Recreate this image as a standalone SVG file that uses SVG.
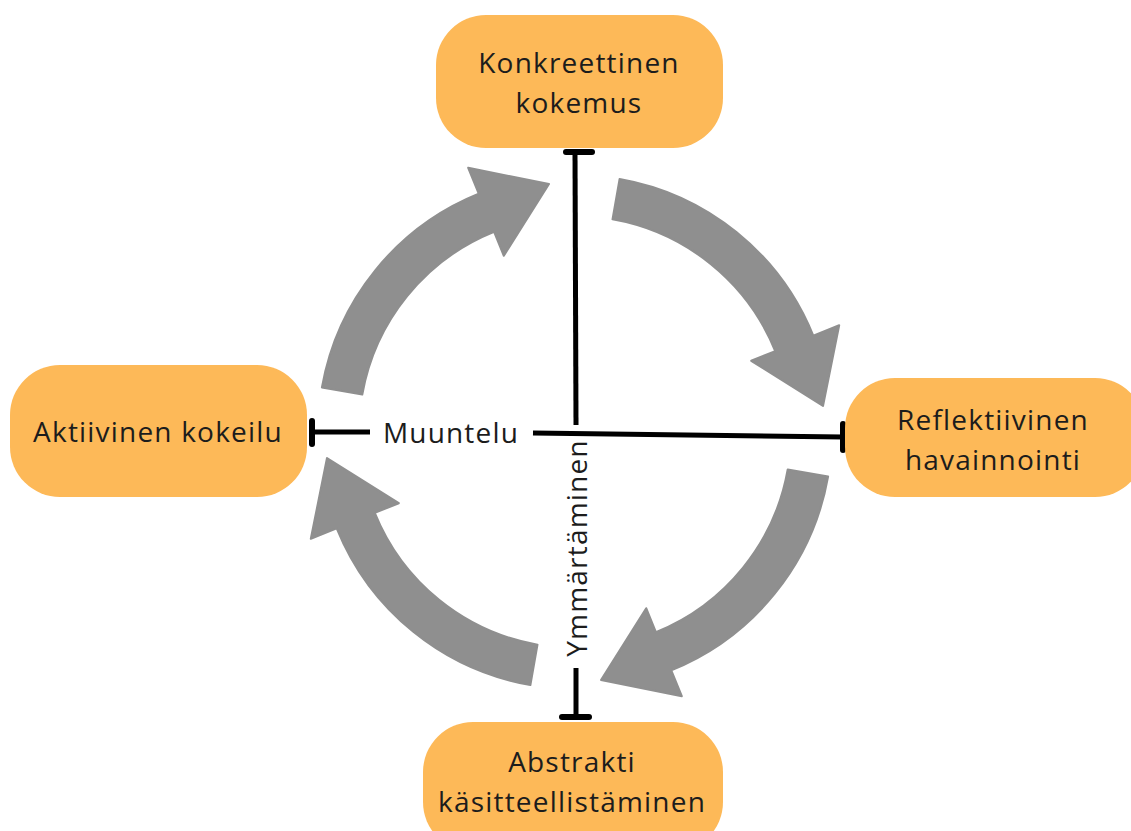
<svg xmlns="http://www.w3.org/2000/svg" width="1131" height="831" viewBox="0 0 1131 831">
<defs>
<style>
.node{fill:#fdb958;}
.lbl{font-family:"Open Sans","Liberation Sans",sans-serif;font-size:28px;fill:#1c1c1c;letter-spacing:1.2px;text-anchor:middle;}
.ax{stroke:#000;stroke-width:5;fill:none;stroke-linecap:butt;}
.cap{stroke:#000;stroke-width:6;stroke-linecap:round;fill:none;}
.arr{fill:#8f8f8f;stroke:#8f8f8f;stroke-width:2;stroke-linejoin:round;}
</style>
<path id="cyc" class="arr" d="M -212.7 -37.5 L -253.1 -44.6 A 257 257 0 0 1 -96.3 -238.3 L -106.8 -264.2 L -26 -248 L -71.2 -176.2 L -80.9 -200.2 A 216 216 0 0 0 -212.7 -37.5 Z"/>
</defs>
<rect width="1131" height="831" fill="#fff"/>
<g id="cycle-arrows">
<use href="#cyc" transform="translate(575,432)"/>
<use href="#cyc" transform="translate(575,432) rotate(90)"/>
<use href="#cyc" transform="translate(575,432) rotate(180)"/>
<use href="#cyc" transform="translate(575,432) rotate(270)"/>
</g>
<g id="connectors">
<line class="ax" x1="575" y1="152" x2="576" y2="425"/>
<line class="cap" x1="566" y1="152" x2="592" y2="152"/>
<line class="ax" x1="576" y1="668" x2="576" y2="717"/>
<line class="cap" x1="562" y1="717" x2="589" y2="717"/>
<line class="ax" x1="312" y1="432" x2="370" y2="432"/>
<line class="cap" x1="312" y1="421" x2="312" y2="444"/>
<line class="ax" x1="533" y1="433" x2="843" y2="437"/>
<line class="cap" x1="843" y1="424" x2="843" y2="450"/>
<text class="lbl" x="451" y="443">Muuntelu</text>
<text class="lbl" transform="translate(587,548) rotate(-90)">Ymmärtäminen</text>
</g>
<g id="node-konkreettinen">
<rect class="node" x="436" y="15" width="287" height="133" rx="50"/>
<text class="lbl" x="579" y="73">Konkreettinen</text>
<text class="lbl" x="579" y="113">kokemus</text>
</g>
<g id="node-reflektiivinen">
<rect class="node" x="845" y="378" width="300" height="119" rx="50"/>
<text class="lbl" x="993" y="430">Reflektiivinen</text>
<text class="lbl" x="993" y="470">havainnointi</text>
</g>
<g id="node-abstrakti">
<rect class="node" x="423" y="722" width="300" height="130" rx="50"/>
<text class="lbl" x="572" y="772">Abstrakti</text>
<text class="lbl" x="572" y="812">käsitteellistäminen</text>
</g>
<g id="node-aktiivinen">
<rect class="node" x="10" y="365" width="297" height="132" rx="50"/>
<text class="lbl" x="158" y="442">Aktiivinen kokeilu</text>
</g>
</svg>
